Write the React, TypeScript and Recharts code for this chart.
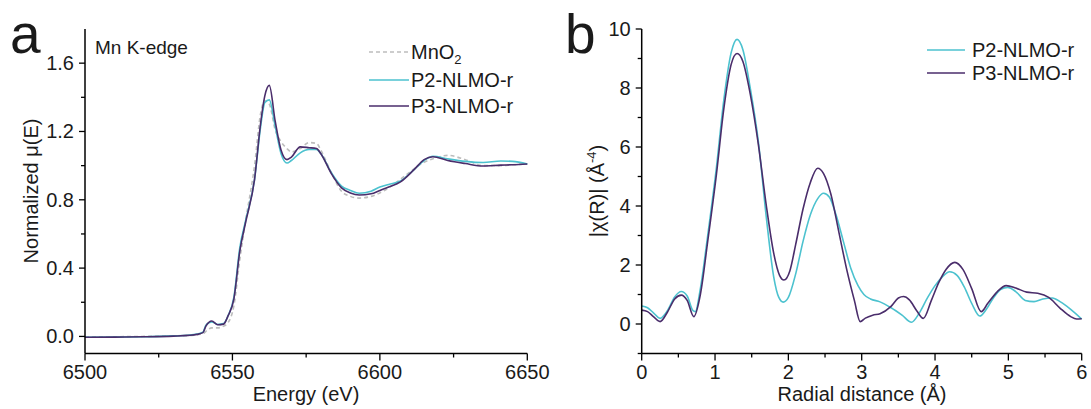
import React from 'react';
import { LineChart, Line, XAxis, YAxis } from 'recharts';

// ---- panel a: Mn K-edge XANES ----
const energy = [
  6500, 6510, 6520, 6530, 6535, 6538, 6540, 6541, 6543, 6545, 6547, 6548.5, 6550.5, 6552.5, 6554.5,
  6557.5, 6559.5, 6561, 6562.5, 6564.5, 6566.5, 6568.5, 6570, 6573, 6576, 6578.5, 6580, 6583.5, 6587,
  6590, 6593, 6597, 6600, 6603, 6607, 6611.5, 6615, 6618, 6623, 6629, 6635, 6641, 6645, 6650,
];
const mno2 = [
  -0.003, -0.002, 0.0, 0.003, 0.005, 0.01, 0.015, 0.03, 0.05, 0.05, 0.06, 0.08, 0.18, 0.45, 0.68,
  1.0, 1.3, 1.38, 1.36, 1.21, 1.14, 1.1, 1.08, 1.1, 1.135, 1.13, 1.09, 0.96, 0.85,
  0.82, 0.81, 0.82, 0.84, 0.87, 0.92, 0.98, 1.02, 1.04, 1.06, 1.035, 1.0, 1.0, 1.005, 1.01,
];
const p2Xanes = [
  -0.005, -0.004, -0.002, 0.003, 0.007, 0.014, 0.025, 0.065, 0.085, 0.07, 0.075, 0.12, 0.23, 0.52, 0.68,
  0.92, 1.22, 1.37, 1.385, 1.23, 1.07, 1.015, 1.03, 1.075, 1.095, 1.095, 1.07, 0.96, 0.88,
  0.855, 0.838, 0.85, 0.875, 0.89, 0.91, 0.975, 1.03, 1.055, 1.04, 1.025, 1.018, 1.027, 1.025, 1.01,
];
const p3Xanes = [
  -0.005, -0.004, -0.002, 0.002, 0.006, 0.012, 0.022, 0.06, 0.09, 0.068, 0.072, 0.12, 0.22, 0.5, 0.67,
  0.92, 1.24, 1.41, 1.47, 1.26, 1.09, 1.035, 1.05, 1.11, 1.105, 1.1, 1.07, 0.955, 0.87,
  0.84, 0.828, 0.835, 0.855, 0.875, 0.905, 0.975, 1.035, 1.052, 1.03, 1.012, 0.998, 1.003, 1.005, 1.01,
];

// ---- panel b: FT-EXAFS ----
const rP2 = [
  0, 0.08, 0.16, 0.25, 0.35, 0.45, 0.54, 0.62, 0.7, 0.73, 0.8, 0.9, 1.02, 1.12, 1.22, 1.3, 1.38, 1.48,
  1.59, 1.7, 1.8, 1.87, 1.93, 2.0, 2.1, 2.2, 2.3, 2.4, 2.48, 2.56, 2.65, 2.75, 2.85, 2.95, 3.03, 3.12,
  3.25, 3.4, 3.55, 3.68, 3.78, 3.9, 4.0, 4.1, 4.2, 4.3, 4.4, 4.5, 4.61, 4.7, 4.8, 4.9, 4.99, 5.1, 5.23,
  5.35, 5.47, 5.6, 5.71, 5.85, 6.0,
];
const chiP2 = [
  0.61, 0.55, 0.38, 0.19, 0.45, 0.92, 1.1, 0.95, 0.45, 0.42, 1.2, 3.0, 5.33, 7.6, 9.2, 9.65, 9.3, 8.0,
  6.2, 3.6, 1.6, 0.9, 0.74, 0.9, 1.7, 2.8, 3.7, 4.25, 4.43, 4.3, 3.7, 2.8, 1.9, 1.3, 1.0, 0.85,
  0.75, 0.55, 0.3, 0.06, 0.35, 0.9, 1.3, 1.6, 1.77, 1.65, 1.25, 0.7, 0.27, 0.5, 0.9, 1.18, 1.24, 1.1, 0.8,
  0.76, 0.85, 0.88, 0.75, 0.5, 0.17,
];
const rP3 = [
  0, 0.08, 0.16, 0.25, 0.35, 0.45, 0.54, 0.62, 0.71, 0.8, 0.9, 1.02, 1.12, 1.22, 1.3, 1.38, 1.48, 1.59,
  1.7, 1.8, 1.88, 1.94, 2.02, 2.1, 2.2, 2.3, 2.4, 2.48, 2.58, 2.69, 2.8, 2.9, 2.98, 3.05, 3.15, 3.25,
  3.4, 3.5, 3.57, 3.65, 3.75, 3.84, 3.95, 4.05, 4.15, 4.27, 4.38, 4.5, 4.63, 4.72, 4.85, 4.97, 5.1,
  5.25, 5.4, 5.55, 5.7, 5.85, 5.93, 6.0,
];
const chiP3 = [
  0.47, 0.42, 0.25, 0.08, 0.4, 0.85, 0.98, 0.8, 0.25, 1.0, 2.8, 5.1, 7.3, 8.8, 9.17, 8.9, 7.8, 6.1,
  4.0, 2.4, 1.65, 1.49, 1.8, 2.7, 3.9, 4.8, 5.28, 5.1, 4.4, 3.1, 1.8, 0.8, 0.08, 0.2, 0.3, 0.35,
  0.6, 0.88, 0.93, 0.82, 0.45, 0.19, 0.8, 1.4, 1.85, 2.09, 1.85, 1.2, 0.42, 0.7, 1.1, 1.3, 1.22,
  1.08, 1.04, 0.9, 0.55, 0.25, 0.17, 0.18,
];

const xanesTicksX = [6500, 6525, 6550, 6575, 6600, 6625, 6650];
const xanesTicksY = [0, 0.2, 0.4, 0.6, 0.8, 1.0, 1.2, 1.4, 1.6];
const ftTicksX = [0, 0.5, 1, 1.5, 2, 2.5, 3, 3.5, 4, 4.5, 5, 5.5, 6];
const ftTicksY = [-1, 0, 1, 2, 3, 4, 5, 6, 7, 8, 9, 10];

const CYAN = '#4cc2cf';
const PURPLE = '#4a2d6b';
const GRAY = '#bdbdbd';
const FONT = '"Liberation Sans", Arial, Helvetica, sans-serif';

const xanesData = energy.map((e, i) => ({ e, mno2: mno2[i], p2: p2Xanes[i], p3: p3Xanes[i] }));
const ftP2 = rP2.map((r, i) => ({ r, v: chiP2[i] }));
const ftP3 = rP3.map((r, i) => ({ r, v: chiP3[i] }));

const bottomTick = (isMajor: (v: number) => boolean, fmt: (v: number) => string) => (props: any) => {
  const { x, y, payload } = props;
  const major = isMajor(payload.value);
  return (
    <g>
      <line x1={x} y1={y} x2={x} y2={y + (major ? 7 : 4)} stroke="#000" strokeWidth={1.3} />
      {major && (
        <text x={x} y={y + 25} textAnchor="middle" fontSize={20} fontFamily={FONT} fill="#1a1a1a">
          {fmt(payload.value)}
        </text>
      )}
    </g>
  );
};

const leftTick = (isMajor: (v: number) => boolean, fmt: (v: number) => string) => (props: any) => {
  const { x, y, payload } = props;
  const major = isMajor(payload.value);
  return (
    <g>
      <line x1={x} y1={y} x2={x - (major ? 6 : 4)} y2={y} stroke="#000" strokeWidth={1.3} />
      {major && (
        <text x={x - 11} y={y + 7} textAnchor="end" fontSize={20} fontFamily={FONT} fill="#1a1a1a">
          {fmt(payload.value)}
        </text>
      )}
    </g>
  );
};

const near = (v: number, step: number) => Math.abs(v / step - Math.round(v / step)) < 1e-6;

const axisStroke = { stroke: '#000', strokeWidth: 1.5 };

function XanesPanel() {
  return (
    <LineChart width={560} height={409} data={xanesData} margin={{ top: 29, right: 32.7, bottom: 25.5, left: 25 }}>
      <XAxis
        dataKey="e"
        type="number"
        domain={[6500, 6650]}
        ticks={xanesTicksX}
        interval={0}
        height={30}
        tickSize={0}
        tickMargin={0}
        axisLine={axisStroke}
        tick={bottomTick((v) => near(v, 50), (v) => String(v))}
      />
      <XAxis xAxisId="top" orientation="top" type="number" domain={[6500, 6650]} height={0} tick={false} tickLine={false} axisLine={axisStroke} />
      <YAxis
        type="number"
        domain={[-0.1, 1.8]}
        allowDataOverflow
        ticks={xanesTicksY}
        interval={0}
        width={60}
        tickSize={0}
        tickMargin={0}
        axisLine={axisStroke}
        tick={leftTick((v) => near(v, 0.4), (v) => v.toFixed(1))}
      />
      <YAxis yAxisId="right" orientation="right" type="number" domain={[-0.1, 1.8]} width={0} tick={false} tickLine={false} axisLine={axisStroke} />
      <Line dataKey="mno2" type="monotone" stroke={GRAY} strokeWidth={1.6} strokeDasharray="4 3" dot={false} isAnimationActive={false} />
      <Line dataKey="p2" type="monotone" stroke={CYAN} strokeWidth={1.6} dot={false} isAnimationActive={false} />
      <Line dataKey="p3" type="monotone" stroke={PURPLE} strokeWidth={1.6} dot={false} isAnimationActive={false} />
    </LineChart>
  );
}

function FtPanel() {
  return (
    <LineChart width={546} height={409} margin={{ top: 29, right: 9.3, bottom: 25.5, left: 36.7 }}>
      <XAxis
        dataKey="r"
        type="number"
        domain={[0, 6]}
        ticks={ftTicksX}
        interval={0}
        height={30}
        tickSize={0}
        tickMargin={0}
        axisLine={axisStroke}
        tick={bottomTick((v) => near(v, 1), (v) => String(v))}
      />
      <XAxis xAxisId="top" orientation="top" type="number" domain={[0, 6]} height={0} tick={false} tickLine={false} axisLine={axisStroke} />
      <YAxis
        type="number"
        domain={[-1, 10]}
        allowDataOverflow
        ticks={ftTicksY}
        interval={0}
        width={60}
        tickSize={0}
        tickMargin={0}
        axisLine={axisStroke}
        tick={leftTick((v) => v >= 0 && near(v, 2), (v) => String(v))}
      />
      <YAxis yAxisId="right" orientation="right" type="number" domain={[-1, 10]} width={0} tick={false} tickLine={false} axisLine={axisStroke} />
      <Line data={ftP2} dataKey="v" type="monotone" stroke={CYAN} strokeWidth={1.6} dot={false} isAnimationActive={false} />
      <Line data={ftP3} dataKey="v" type="monotone" stroke={PURPLE} strokeWidth={1.6} dot={false} isAnimationActive={false} />
    </LineChart>
  );
}

export default function App() {
  const t = { fontFamily: FONT, fill: '#1a1a1a' };
  return (
    <div style={{ position: 'absolute', left: 0, top: 0, width: 1091, height: 409, background: '#fff' }}>
      <div style={{ position: 'absolute', left: 0, top: 0 }}>
        <XanesPanel />
      </div>
      <div style={{ position: 'absolute', left: 545, top: 0 }}>
        <FtPanel />
      </div>
      <svg width={1091} height={409} style={{ position: 'absolute', left: 0, top: 0, pointerEvents: 'none' }}>
        {/* panel letters */}
        <text x={10} y={53} fontSize={55} {...t}>a</text>
        <text x={565} y={53} fontSize={55} {...t}>b</text>

        {/* panel a annotations */}
        <text x={95} y={54} fontSize={19} {...t}>Mn K-edge</text>
        <line x1={369} y1={52} x2={409} y2={52} stroke={GRAY} strokeWidth={1.6} strokeDasharray="4 3" />
        <text x={411} y={59} fontSize={20} {...t}>
          MnO<tspan fontSize={13} dy={5}>2</tspan>
        </text>
        <line x1={369} y1={80} x2={409} y2={80} stroke={CYAN} strokeWidth={1.6} />
        <text x={411} y={87} fontSize={20} {...t}>P2-NLMO-r</text>
        <line x1={369} y1={106} x2={409} y2={106} stroke={PURPLE} strokeWidth={1.6} />
        <text x={411} y={113} fontSize={20} {...t}>P3-NLMO-r</text>
        <text x={306} y={401} fontSize={20} textAnchor="middle" {...t}>Energy (eV)</text>
        <text transform="translate(38,191) rotate(-90)" fontSize={20} textAnchor="middle" {...t}>Normalized μ(E)</text>

        {/* panel b annotations */}
        <line x1={927} y1={50} x2={965} y2={50} stroke={CYAN} strokeWidth={1.6} />
        <text x={972} y={57} fontSize={20} {...t}>P2-NLMO-r</text>
        <line x1={927} y1={73} x2={965} y2={73} stroke={PURPLE} strokeWidth={1.6} />
        <text x={972} y={80} fontSize={20} {...t}>P3-NLMO-r</text>
        <text x={862} y={401} fontSize={20} textAnchor="middle" {...t}>Radial distance (Å)</text>
        <text transform="translate(604,191) rotate(-90)" fontSize={20} textAnchor="middle" {...t}>
          |χ(R)| (Å<tspan fontSize={13} dy={-8}>-4</tspan><tspan dy={8}>)</tspan>
        </text>
      </svg>
    </div>
  );
}
